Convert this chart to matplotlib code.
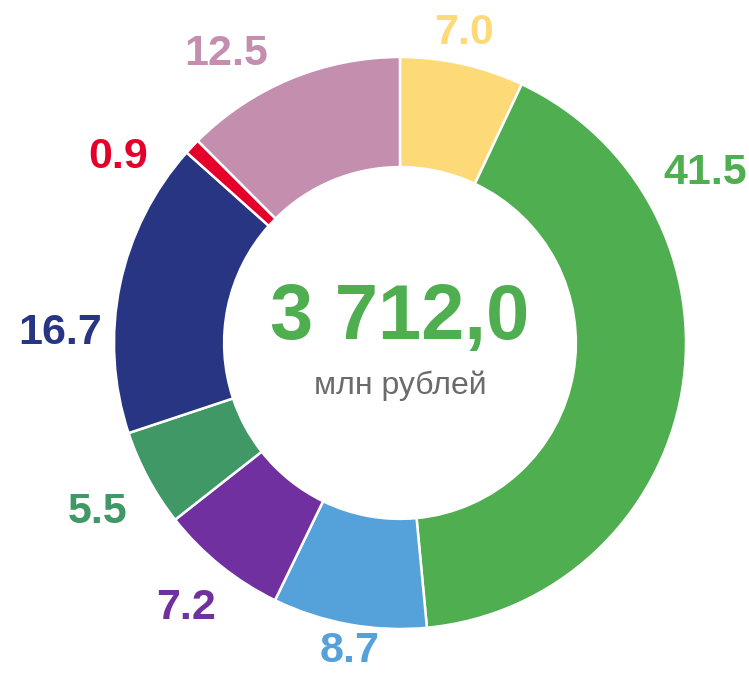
import numpy as np
import matplotlib.pyplot as plt

# shares, clockwise from 12 o'clock
values = [7.0, 41.5, 8.7, 7.2, 5.5, 16.7, 0.9, 12.5]
labels = ['7.0', '41.5', '8.7', '7.2', '5.5', '16.7', '0.9', '12.5']
colors = ['#FDD977', '#4FAE4F', '#55A1D9', '#7030A0', '#3F9866', '#283583', '#E4002B', '#C48FAF']
total_text = '3 712,0'
unit_text = 'млн рублей'

# label placement tweaks (degrees clockwise, radius in pie radii)
lab_shift = [-1, -39, -1, 0, -1, -10, -10, -8.5]
lab_rad = [1.105, 1.22, 1.09, 1.19, 1.21, 1.19, 1.18, 1.18]

plt.rcParams['font.family'] = ['Liberation Sans', 'DejaVu Sans']

W, H = 749, 673
cx, cy, R = 400, 343, 286
fig = plt.figure(figsize=(W / 100, H / 100), dpi=100)
ax = fig.add_axes([(cx - R) / W, (H - cy - R) / H, 2 * R / W, 2 * R / H])

wedges, _ = ax.pie(values, colors=colors, startangle=90, counterclock=False, radius=1,
                   wedgeprops=dict(width=0.385, edgecolor='white', linewidth=1.8))
ax.set_xlim(-1, 1)
ax.set_ylim(-1, 1)
ax.axis('off')

for w, lab, c, sh, r in zip(wedges, labels, colors, lab_shift, lab_rad):
    mid = (w.theta1 + w.theta2) / 2 - sh
    x, y = r * np.cos(np.radians(mid)), r * np.sin(np.radians(mid))
    ax.text(x, y, lab, color=c, fontsize=31, fontweight='bold',
            ha='center', va='center', clip_on=False)

ax.text(0, 0.085, total_text, color='#4FAE4F', fontsize=56, fontweight='bold',
        ha='center', va='center')
ax.text(0, -0.15, unit_text, color='#6B6B6B', fontsize=23, ha='center', va='center')

fig.savefig('out.png', dpi=100)
